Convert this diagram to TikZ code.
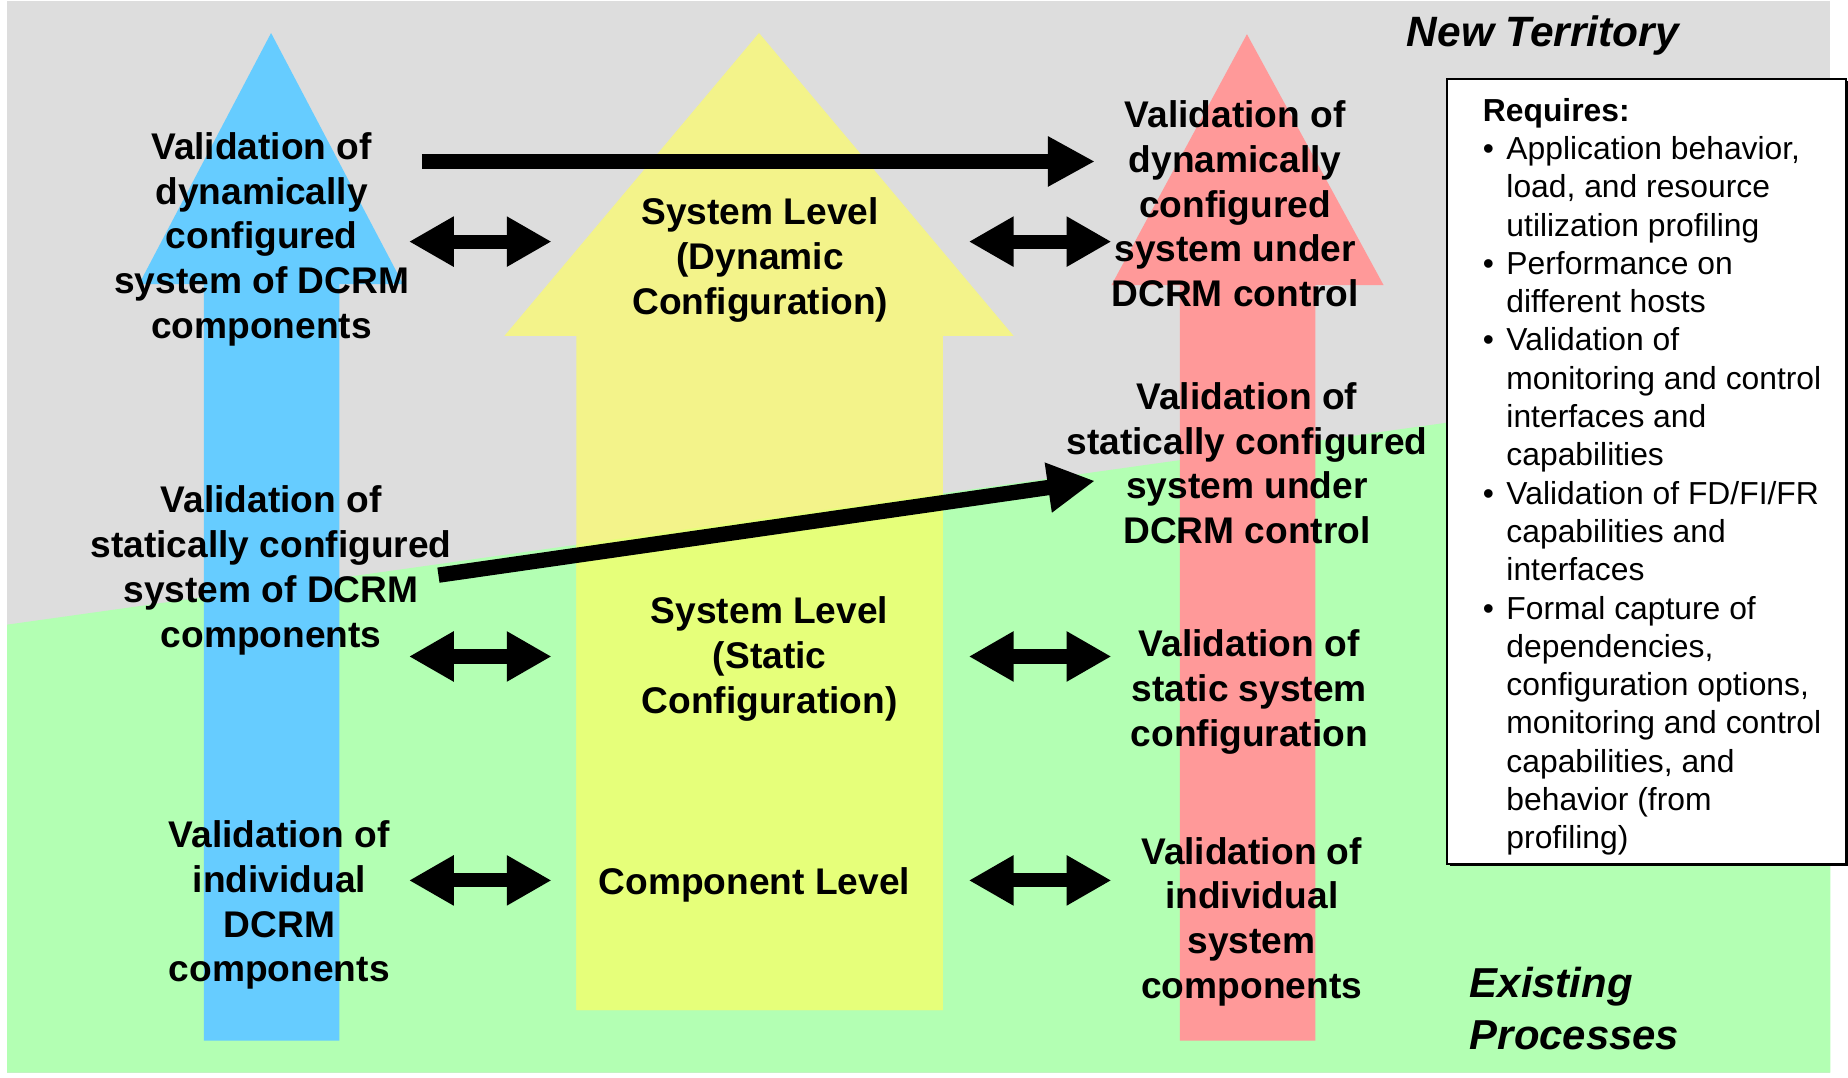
\documentclass[tikz,border=0pt]{standalone}
\usepackage{fontspec}
\setmainfont{Liberation Sans}
\usetikzlibrary{arrows.meta}

\definecolor{bggray}{HTML}{DDDDDD}
\definecolor{bggreen}{HTML}{B3FFB3}
\definecolor{arrblue}{HTML}{66CCFF}
\definecolor{arrred}{HTML}{FF9999}
\definecolor{yelpale}{HTML}{F3F38A}
\definecolor{yellime}{HTML}{E6FF7A}

\newcommand\lblfont{\fontsize{31.5}{38}\selectfont\bfseries}
\newcommand\reqfont{\fontsize{27}{32.5}\selectfont}
\newcommand\zonefont{\fontsize{35.5}{44}\selectfont\bfseries\itshape}
\newcommand\blt{\makebox[20pt][l]{\textbullet}}
\newcommand\ind{\hspace*{20pt}}

\begin{document}
\begin{tikzpicture}[x=1pt,y=-1pt,
  lbl/.style={inner sep=0pt, align=center, font=\lblfont},
  bigarrow/.style={line width=13pt, -{Triangle[length=40pt,width=40pt]}},
  dblarrow/.style={line width=12pt,
    {Triangle[length=38pt,width=40pt]}-{Triangle[length=38pt,width=40pt]}},
]
\useasboundingbox (0,0) rectangle (1568,914);
\fill[white] (0,0) rectangle (1568,914);

% backdrop: new territory (gray) above, existing processes (green) below
\fill[bggray] (6,1) rectangle (1553,910);
\def\greenzone{(6,530) -- (1553,313) -- (1553,910) -- (6,910) -- cycle}
\fill[bggreen] \greenzone;

% blue column arrow
\fill[arrblue] (230,28) -- (342,241) -- (288,241) -- (288,883) -- (173,883)
  -- (173,241) -- (118,241) -- cycle;

% yellow column arrow, paler over the gray zone
\def\yellowshape{(644,28) -- (860,285) -- (800,285) -- (800,857) -- (489,857)
  -- (489,285) -- (428,285) -- cycle}
\fill[yelpale] \yellowshape;
\begin{scope}
  \clip \greenzone;
  \fill[yellime] \yellowshape;
\end{scope}

% red column arrow
\fill[arrred] (1058,29) -- (1174,242) -- (1116,242) -- (1116,883) -- (1001,883)
  -- (1001,242) -- (943,242) -- cycle;

% labels
\node[lbl] (ldyn) at (222,203) {Validation of\\dynamically\\configured\\system of DCRM\\components};
\node[lbl] (lsta) at (230,484) {Validation of\\statically configured\\system of DCRM\\components};
\node[lbl] (lcmp) at (237,768) {Validation of\\individual\\DCRM\\components};

\node[lbl] (mdyn) at (645,220.5) {System Level\\(Dynamic\\Configuration)};
\node[lbl] (msta) at (653,559) {System Level\\(Static\\Configuration)};
\node[lbl] (mcmp) at (640,751) {Component Level};

\node[lbl] (rdyn) at (1048,173) {Validation of\\dynamically\\configured\\system under\\DCRM control};
\node[lbl] (rdst) at (1058,393) {Validation of\\statically configured\\system under\\DCRM control};
\node[lbl] (rsta) at (1060,587) {Validation of\\static system\\configuration};
\node[lbl] (rcmp) at (1062,782) {Validation of\\individual\\system\\components};

% progression arrows
\coordinate (dynfrom) at (358,137);
\coordinate (dynto) at (929,137);
\draw[bigarrow] (dynfrom) -- (dynto);
\coordinate (stafrom) at (372,488);
\coordinate (stato) at (929,408);
\draw[bigarrow] (stafrom) -- (stato);

% correspondence arrows
\foreach \yy/\nm in {205/a, 557/b, 747/c}{
  \coordinate (l\nm1) at (347,\yy);
  \coordinate (l\nm2) at (468,\yy);
  \coordinate (r\nm1) at (822,\yy);
  \coordinate (r\nm2) at (943,\yy);
  \draw[dblarrow] (l\nm1) -- (l\nm2);
  \draw[dblarrow] (r\nm1) -- (r\nm2);
}

% requirements box
\fill[black] (1230,69) rectangle (1568,735);
\filldraw[fill=white, draw=black, line width=1.6pt] (1228,67) rectangle (1566,733);
\node[anchor=north west, inner sep=0pt, align=left, font=\reqfont] (req) at (1258,83)
{\textbf{Requires:}\\
\blt Application behavior,\\
\ind load, and resource\\
\ind utilization profiling\\
\blt Performance on\\
\ind different hosts\\
\blt Validation of\\
\ind monitoring and control\\
\ind interfaces and\\
\ind capabilities\\
\blt Validation of FD/FI/FR\\
\ind capabilities and\\
\ind interfaces\\
\blt Formal capture of\\
\ind dependencies,\\
\ind configuration options,\\
\ind monitoring and control\\
\ind capabilities, and\\
\ind behavior (from\\
\ind profiling)};

% zone titles
\node[inner sep=0pt, font=\fontsize{36}{40}\selectfont\bfseries\itshape] (newterr) at (1309,30) {New Territory};
\node[inner sep=0pt, anchor=west, align=left, font=\zonefont] (existing) at (1247,856) {Existing\\Processes};
\end{tikzpicture}
\end{document}
